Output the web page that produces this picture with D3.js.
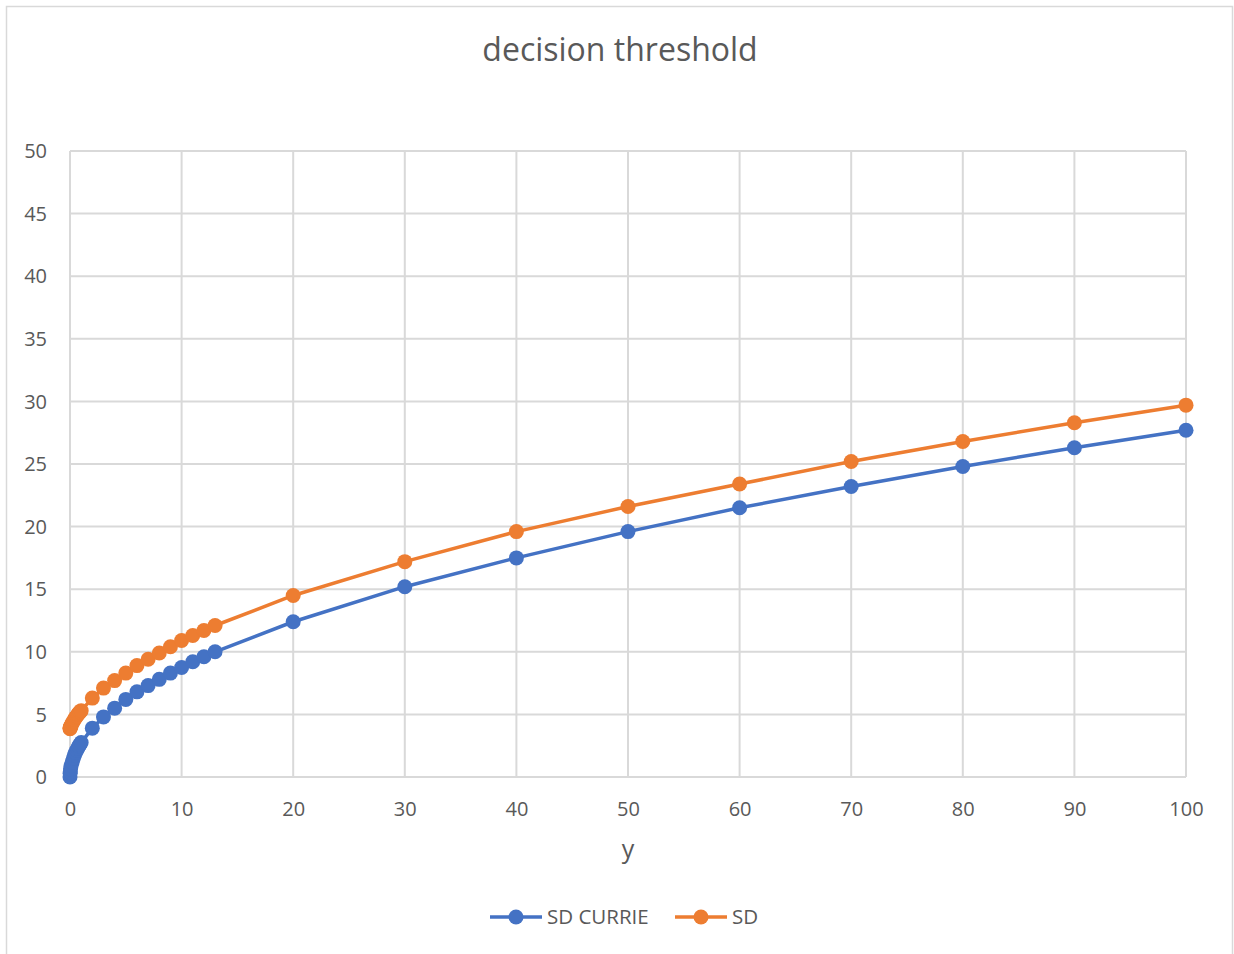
<!DOCTYPE html>
<html>
<head>
<meta charset="utf-8" />
<style>
body {
    margin: 0;
    background-color: #fff;
}
text {
    font-family: "Open Sans", "Noto Sans", sans-serif;
    fill: #595959;
}
</style>
<title>decision threshold</title>
</head>
<body>
<div id="chart"></div>
<script src="https://cdn.jsdelivr.net/npm/d3@7"></script>
<script>

// x values (y on the axis title)
var xVals = [0, 0.01, 0.02, 0.05, 0.1, 0.2, 0.3, 0.4, 0.5, 0.6, 0.7, 0.8, 0.9, 1,
             2, 3, 4, 5, 6, 7, 8, 9, 10, 11, 12, 13,
             20, 30, 40, 50, 60, 70, 80, 90, 100];

var sdCurrie = [0, 0.3, 0.4, 0.65, 0.9, 1.2, 1.5, 1.75, 1.95, 2.15, 2.3, 2.5, 2.6, 2.75,
                3.9, 4.8, 5.5, 6.2, 6.8, 7.3, 7.8, 8.3, 8.75, 9.2, 9.6, 10.0,
                12.4, 15.2, 17.5, 19.6, 21.5, 23.2, 24.8, 26.3, 27.7];

var sd = [3.85, 3.9, 3.95, 4.0, 4.1, 4.3, 4.45, 4.6, 4.75, 4.85, 5.0, 5.1, 5.2, 5.3,
          6.3, 7.1, 7.7, 8.3, 8.9, 9.4, 9.9, 10.4, 10.9, 11.3, 11.7, 12.1,
          14.5, 17.2, 19.6, 21.6, 23.4, 25.2, 26.8, 28.3, 29.7];

var xTicks = [0, 10, 20, 30, 40, 50, 60, 70, 80, 90, 100];
var yTicks = [0, 5, 10, 15, 20, 25, 30, 35, 40, 45, 50];

var seriesNames = ["SD CURRIE", "SD"];
var seriesColors = ["#4472C4", "#ED7D31"];

var width = 1234, height = 954;
var margin = {top: 151, right: 48, bottom: 177, left: 70};

var svg = d3.select("#chart").append("svg")
    .attr("width", width)
    .attr("height", height);

// outer chart border
svg.append("rect")
    .attr("x", 6.5).attr("y", 6.5)
    .attr("width", 1226).attr("height", 960)
    .attr("fill", "#fff")
    .attr("stroke", "#d9d9d9")
    .attr("stroke-width", 1.5);

var x = d3.scaleLinear().domain([0, 100]).range([margin.left, width - margin.right]);
var y = d3.scaleLinear().domain([0, 50]).range([height - margin.bottom, margin.top]);

// gridlines
svg.append("g").selectAll("line.h").data(yTicks).enter().append("line")
    .attr("x1", x(0)).attr("x2", x(100))
    .attr("y1", function(d) { return y(d); })
    .attr("y2", function(d) { return y(d); })
    .attr("stroke", "#d9d9d9").attr("stroke-width", 2);

svg.append("g").selectAll("line.v").data(xTicks).enter().append("line")
    .attr("y1", y(0)).attr("y2", y(50))
    .attr("x1", function(d) { return x(d); })
    .attr("x2", function(d) { return x(d); })
    .attr("stroke", "#d9d9d9").attr("stroke-width", 2);

// axes labels via d3 axes, no domain/ticks
var yAxis = svg.append("g")
    .attr("transform", "translate(" + (x(0) - 20) + ",0)")
    .call(d3.axisLeft(y).tickValues(yTicks).tickSize(0));
yAxis.select(".domain").remove();
yAxis.selectAll("text")
    .attr("font-size", 20).attr("dy", "0.33em")
    .style("font-family", "'Open Sans', sans-serif").style("fill", "#595959");

var xAxis = svg.append("g")
    .attr("transform", "translate(0," + (y(0) + 22) + ")")
    .call(d3.axisBottom(x).tickValues(xTicks).tickSize(0));
xAxis.select(".domain").remove();
xAxis.selectAll("text")
    .attr("font-size", 20)
    .style("font-family", "'Open Sans', sans-serif").style("fill", "#595959");

// title
svg.append("text")
    .attr("x", 620).attr("y", 61)
    .attr("text-anchor", "middle")
    .attr("font-size", 32)
    .text("decision threshold");

// axis title
svg.append("text")
    .attr("x", x(50)).attr("y", 858)
    .attr("text-anchor", "middle")
    .attr("font-size", 25)
    .text("y");

var allSeries = [sdCurrie, sd];

var line = d3.line()
    .x(function(d) { return x(d[0]); })
    .y(function(d) { return y(d[1]); });

allSeries.forEach(function(vals, i) {
    var pts = xVals.map(function(v, j) { return [v, vals[j]]; });
    svg.append("path")
        .datum(pts)
        .attr("d", line)
        .attr("fill", "none")
        .attr("stroke", seriesColors[i])
        .attr("stroke-width", 3.5)
        .attr("stroke-linejoin", "round");
    svg.append("g").selectAll("circle").data(pts).enter().append("circle")
        .attr("cx", function(d) { return x(d[0]); })
        .attr("cy", function(d) { return y(d[1]); })
        .attr("r", 7.5)
        .attr("fill", seriesColors[i]);
});

// legend
var legendX = [490, 675];
var legend = svg.append("g");
seriesNames.forEach(function(name, i) {
    var g = legend.append("g").attr("transform", "translate(" + legendX[i] + ",917)");
    g.append("line").attr("x1", 0).attr("x2", 52)
        .attr("stroke", seriesColors[i]).attr("stroke-width", 3.5);
    g.append("circle").attr("cx", 26).attr("r", 7.5).attr("fill", seriesColors[i]);
    g.append("text").attr("x", 57).attr("dy", "0.35em")
        .attr("font-size", 20.5).text(name);
});

</script>
</body>
</html>
